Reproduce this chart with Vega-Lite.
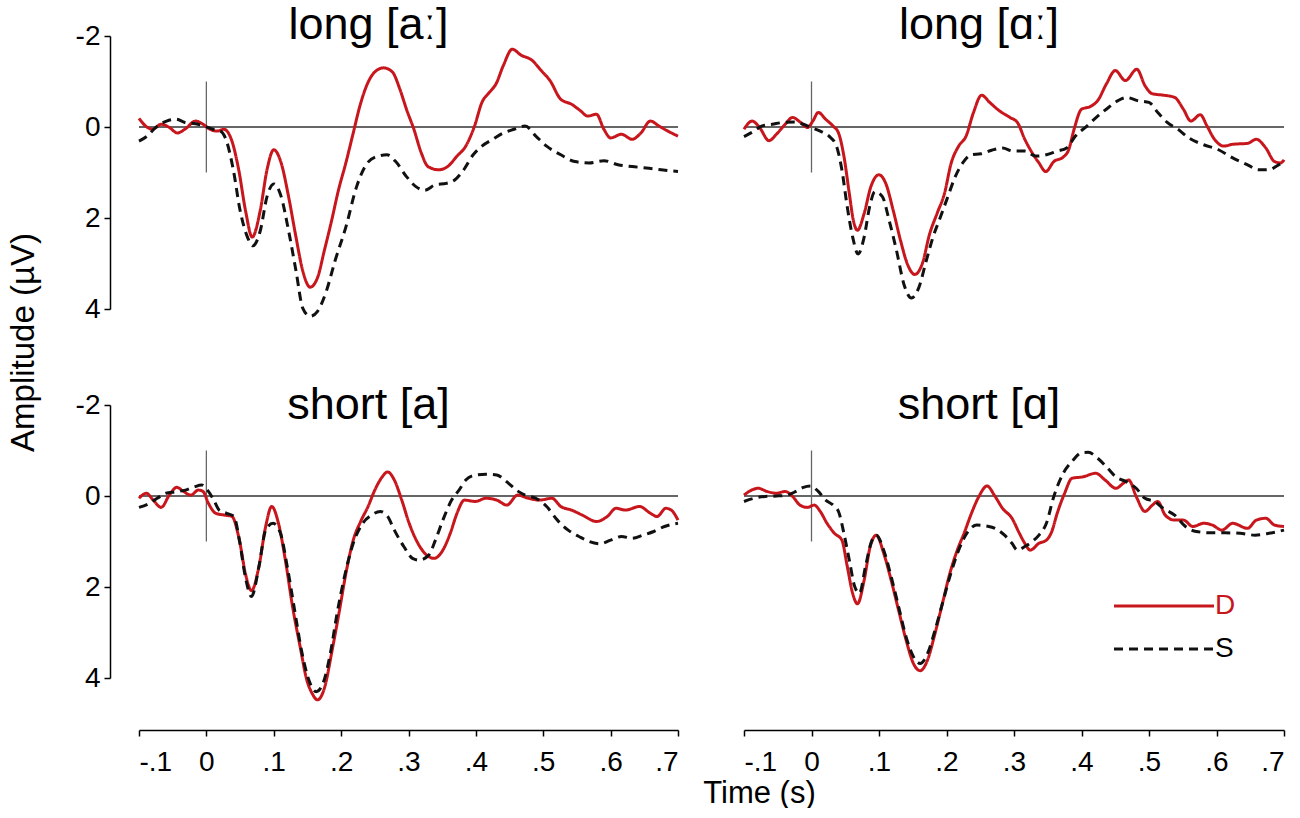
{
  "$schema": "https://vega.github.io/schema/vega-lite/v6.json",
  "description": "ERP waveforms for deviant (D) and standard (S) vowels, long and short, in four panels.",
  "padding": {"left": 7, "top": 3, "right": 8, "bottom": 0},
  "bounds": "flush",
  "columns": 2,
  "spacing": {"row": 96, "column": 66},
  "resolve": {"legend": {"color": "independent", "strokeDash": "independent"}},
  "datasets": {
    "erp": [
      {"panel":"long [aː]","cond":"D","time":-0.100,"amp":-0.19},{"panel":"long [aː]","cond":"D","time":-0.090,"amp":-0.02},{"panel":"long [aː]","cond":"D","time":-0.080,"amp":0.05},{"panel":"long [aː]","cond":"D","time":-0.067,"amp":-0.06},{"panel":"long [aː]","cond":"D","time":-0.056,"amp":0.00},{"panel":"long [aː]","cond":"D","time":-0.043,"amp":0.13},{"panel":"long [aː]","cond":"D","time":-0.032,"amp":0.05},{"panel":"long [aː]","cond":"D","time":-0.016,"amp":-0.13},{"panel":"long [aː]","cond":"D","time":-0.005,"amp":-0.06},{"panel":"long [aː]","cond":"D","time":0.003,"amp":0.03},{"panel":"long [aː]","cond":"D","time":0.016,"amp":0.09},{"panel":"long [aː]","cond":"D","time":0.026,"amp":0.05},{"panel":"long [aː]","cond":"D","time":0.037,"amp":0.27},{"panel":"long [aː]","cond":"D","time":0.048,"amp":0.94},{"panel":"long [aː]","cond":"D","time":0.058,"amp":1.83},{"panel":"long [aː]","cond":"D","time":0.068,"amp":2.42},{"panel":"long [aː]","cond":"D","time":0.080,"amp":1.83},{"panel":"long [aː]","cond":"D","time":0.090,"amp":0.94},{"panel":"long [aː]","cond":"D","time":0.100,"amp":0.50},{"panel":"long [aː]","cond":"D","time":0.111,"amp":0.79},{"panel":"long [aː]","cond":"D","time":0.122,"amp":1.53},{"panel":"long [aː]","cond":"D","time":0.133,"amp":2.42},{"panel":"long [aː]","cond":"D","time":0.143,"amp":3.16},{"panel":"long [aː]","cond":"D","time":0.154,"amp":3.52},{"panel":"long [aː]","cond":"D","time":0.165,"amp":3.31},{"panel":"long [aː]","cond":"D","time":0.175,"amp":2.72},{"panel":"long [aː]","cond":"D","time":0.186,"amp":2.05},{"panel":"long [aː]","cond":"D","time":0.196,"amp":1.39},{"panel":"long [aː]","cond":"D","time":0.207,"amp":0.79},{"panel":"long [aː]","cond":"D","time":0.218,"amp":0.13},{"panel":"long [aː]","cond":"D","time":0.228,"amp":-0.47},{"panel":"long [aː]","cond":"D","time":0.239,"amp":-0.95},{"panel":"long [aː]","cond":"D","time":0.250,"amp":-1.21},{"panel":"long [aː]","cond":"D","time":0.263,"amp":-1.30},{"panel":"long [aː]","cond":"D","time":0.276,"amp":-1.21},{"panel":"long [aː]","cond":"D","time":0.287,"amp":-0.84},{"panel":"long [aː]","cond":"D","time":0.297,"amp":-0.39},{"panel":"long [aː]","cond":"D","time":0.308,"amp":0.05},{"panel":"long [aː]","cond":"D","time":0.319,"amp":0.57},{"panel":"long [aː]","cond":"D","time":0.329,"amp":0.87},{"panel":"long [aː]","cond":"D","time":0.345,"amp":0.94},{"panel":"long [aː]","cond":"D","time":0.358,"amp":0.87},{"panel":"long [aː]","cond":"D","time":0.372,"amp":0.64},{"panel":"long [aː]","cond":"D","time":0.385,"amp":0.42},{"panel":"long [aː]","cond":"D","time":0.398,"amp":-0.02},{"panel":"long [aː]","cond":"D","time":0.409,"amp":-0.54},{"panel":"long [aː]","cond":"D","time":0.420,"amp":-0.76},{"panel":"long [aː]","cond":"D","time":0.430,"amp":-0.95},{"panel":"long [aː]","cond":"D","time":0.441,"amp":-1.36},{"panel":"long [aː]","cond":"D","time":0.454,"amp":-1.71},{"panel":"long [aː]","cond":"D","time":0.467,"amp":-1.58},{"panel":"long [aː]","cond":"D","time":0.483,"amp":-1.47},{"panel":"long [aː]","cond":"D","time":0.497,"amp":-1.24},{"panel":"long [aː]","cond":"D","time":0.510,"amp":-1.02},{"panel":"long [aː]","cond":"D","time":0.526,"amp":-0.61},{"panel":"long [aː]","cond":"D","time":0.542,"amp":-0.50},{"panel":"long [aː]","cond":"D","time":0.555,"amp":-0.36},{"panel":"long [aː]","cond":"D","time":0.566,"amp":-0.24},{"panel":"long [aː]","cond":"D","time":0.579,"amp":-0.28},{"panel":"long [aː]","cond":"D","time":0.590,"amp":0.05},{"panel":"long [aː]","cond":"D","time":0.600,"amp":0.24},{"panel":"long [aː]","cond":"D","time":0.616,"amp":0.16},{"panel":"long [aː]","cond":"D","time":0.632,"amp":0.27},{"panel":"long [aː]","cond":"D","time":0.645,"amp":0.13},{"panel":"long [aː]","cond":"D","time":0.659,"amp":-0.13},{"panel":"long [aː]","cond":"D","time":0.672,"amp":-0.02},{"panel":"long [aː]","cond":"D","time":0.685,"amp":0.09},{"panel":"long [aː]","cond":"D","time":0.700,"amp":0.20},
      {"panel":"long [aː]","cond":"S","time":-0.100,"amp":0.31},{"panel":"long [aː]","cond":"S","time":-0.088,"amp":0.20},{"panel":"long [aː]","cond":"S","time":-0.075,"amp":0.01},{"panel":"long [aː]","cond":"S","time":-0.059,"amp":-0.13},{"panel":"long [aː]","cond":"S","time":-0.045,"amp":-0.17},{"panel":"long [aː]","cond":"S","time":-0.032,"amp":-0.10},{"panel":"long [aː]","cond":"S","time":-0.016,"amp":-0.07},{"panel":"long [aː]","cond":"S","time":-0.003,"amp":-0.02},{"panel":"long [aː]","cond":"S","time":0.010,"amp":0.05},{"panel":"long [aː]","cond":"S","time":0.021,"amp":0.09},{"panel":"long [aː]","cond":"S","time":0.029,"amp":0.27},{"panel":"long [aː]","cond":"S","time":0.040,"amp":0.94},{"panel":"long [aː]","cond":"S","time":0.050,"amp":1.83},{"panel":"long [aː]","cond":"S","time":0.061,"amp":2.42},{"panel":"long [aː]","cond":"S","time":0.069,"amp":2.61},{"panel":"long [aː]","cond":"S","time":0.080,"amp":2.28},{"panel":"long [aː]","cond":"S","time":0.090,"amp":1.53},{"panel":"long [aː]","cond":"S","time":0.100,"amp":1.25},{"panel":"long [aː]","cond":"S","time":0.111,"amp":1.53},{"panel":"long [aː]","cond":"S","time":0.122,"amp":2.28},{"panel":"long [aː]","cond":"S","time":0.133,"amp":3.16},{"panel":"long [aː]","cond":"S","time":0.143,"amp":3.98},{"panel":"long [aː]","cond":"S","time":0.154,"amp":4.16},{"panel":"long [aː]","cond":"S","time":0.165,"amp":4.05},{"panel":"long [aː]","cond":"S","time":0.178,"amp":3.61},{"panel":"long [aː]","cond":"S","time":0.191,"amp":2.94},{"panel":"long [aː]","cond":"S","time":0.207,"amp":2.20},{"panel":"long [aː]","cond":"S","time":0.223,"amp":1.31},{"panel":"long [aː]","cond":"S","time":0.239,"amp":0.79},{"panel":"long [aː]","cond":"S","time":0.255,"amp":0.64},{"panel":"long [aː]","cond":"S","time":0.268,"amp":0.61},{"panel":"long [aː]","cond":"S","time":0.281,"amp":0.76},{"panel":"long [aː]","cond":"S","time":0.297,"amp":1.09},{"panel":"long [aː]","cond":"S","time":0.311,"amp":1.31},{"panel":"long [aː]","cond":"S","time":0.324,"amp":1.39},{"panel":"long [aː]","cond":"S","time":0.340,"amp":1.27},{"panel":"long [aː]","cond":"S","time":0.356,"amp":1.24},{"panel":"long [aː]","cond":"S","time":0.369,"amp":1.16},{"panel":"long [aː]","cond":"S","time":0.382,"amp":0.94},{"panel":"long [aː]","cond":"S","time":0.396,"amp":0.61},{"panel":"long [aː]","cond":"S","time":0.409,"amp":0.42},{"panel":"long [aː]","cond":"S","time":0.425,"amp":0.27},{"panel":"long [aː]","cond":"S","time":0.441,"amp":0.13},{"panel":"long [aː]","cond":"S","time":0.457,"amp":0.05},{"panel":"long [aː]","cond":"S","time":0.473,"amp":-0.02},{"panel":"long [aː]","cond":"S","time":0.489,"amp":0.20},{"panel":"long [aː]","cond":"S","time":0.505,"amp":0.42},{"panel":"long [aː]","cond":"S","time":0.526,"amp":0.61},{"panel":"long [aː]","cond":"S","time":0.547,"amp":0.76},{"panel":"long [aː]","cond":"S","time":0.568,"amp":0.79},{"panel":"long [aː]","cond":"S","time":0.590,"amp":0.74},{"panel":"long [aː]","cond":"S","time":0.611,"amp":0.83},{"panel":"long [aː]","cond":"S","time":0.632,"amp":0.87},{"panel":"long [aː]","cond":"S","time":0.653,"amp":0.90},{"panel":"long [aː]","cond":"S","time":0.675,"amp":0.94},{"panel":"long [aː]","cond":"S","time":0.700,"amp":0.98},
      {"panel":"long [ɑː]","cond":"D","time":-0.100,"amp":0.05},{"panel":"long [ɑː]","cond":"D","time":-0.088,"amp":-0.13},{"panel":"long [ɑː]","cond":"D","time":-0.077,"amp":0.01},{"panel":"long [ɑː]","cond":"D","time":-0.063,"amp":0.30},{"panel":"long [ɑː]","cond":"D","time":-0.052,"amp":0.16},{"panel":"long [ɑː]","cond":"D","time":-0.039,"amp":-0.06},{"panel":"long [ɑː]","cond":"D","time":-0.028,"amp":-0.21},{"panel":"long [ɑː]","cond":"D","time":-0.017,"amp":-0.11},{"panel":"long [ɑː]","cond":"D","time":-0.006,"amp":0.01},{"panel":"long [ɑː]","cond":"D","time":0.002,"amp":-0.13},{"panel":"long [ɑː]","cond":"D","time":0.010,"amp":-0.32},{"panel":"long [ɑː]","cond":"D","time":0.021,"amp":-0.17},{"panel":"long [ɑː]","cond":"D","time":0.032,"amp":-0.02},{"panel":"long [ɑː]","cond":"D","time":0.040,"amp":0.13},{"panel":"long [ɑː]","cond":"D","time":0.048,"amp":0.64},{"panel":"long [ɑː]","cond":"D","time":0.056,"amp":1.46},{"panel":"long [ɑː]","cond":"D","time":0.062,"amp":2.05},{"panel":"long [ɑː]","cond":"D","time":0.068,"amp":2.27},{"panel":"long [ɑː]","cond":"D","time":0.078,"amp":1.90},{"panel":"long [ɑː]","cond":"D","time":0.088,"amp":1.31},{"panel":"long [ɑː]","cond":"D","time":0.100,"amp":1.05},{"panel":"long [ɑː]","cond":"D","time":0.110,"amp":1.24},{"panel":"long [ɑː]","cond":"D","time":0.121,"amp":1.83},{"panel":"long [ɑː]","cond":"D","time":0.132,"amp":2.50},{"panel":"long [ɑː]","cond":"D","time":0.142,"amp":3.01},{"panel":"long [ɑː]","cond":"D","time":0.153,"amp":3.24},{"panel":"long [ɑː]","cond":"D","time":0.164,"amp":3.01},{"panel":"long [ɑː]","cond":"D","time":0.175,"amp":2.35},{"panel":"long [ɑː]","cond":"D","time":0.186,"amp":1.90},{"panel":"long [ɑː]","cond":"D","time":0.197,"amp":1.46},{"panel":"long [ɑː]","cond":"D","time":0.207,"amp":0.79},{"panel":"long [ɑː]","cond":"D","time":0.218,"amp":0.42},{"panel":"long [ɑː]","cond":"D","time":0.229,"amp":0.20},{"panel":"long [ɑː]","cond":"D","time":0.240,"amp":-0.32},{"panel":"long [ɑː]","cond":"D","time":0.252,"amp":-0.70},{"panel":"long [ɑː]","cond":"D","time":0.264,"amp":-0.54},{"panel":"long [ɑː]","cond":"D","time":0.278,"amp":-0.36},{"panel":"long [ɑː]","cond":"D","time":0.294,"amp":-0.21},{"panel":"long [ɑː]","cond":"D","time":0.305,"amp":-0.10},{"panel":"long [ɑː]","cond":"D","time":0.316,"amp":0.27},{"panel":"long [ɑː]","cond":"D","time":0.327,"amp":0.57},{"panel":"long [ɑː]","cond":"D","time":0.337,"amp":0.79},{"panel":"long [ɑː]","cond":"D","time":0.347,"amp":0.98},{"panel":"long [ɑː]","cond":"D","time":0.359,"amp":0.76},{"panel":"long [ɑː]","cond":"D","time":0.373,"amp":0.66},{"panel":"long [ɑː]","cond":"D","time":0.381,"amp":0.50},{"panel":"long [ɑː]","cond":"D","time":0.389,"amp":0.05},{"panel":"long [ɑː]","cond":"D","time":0.400,"amp":-0.39},{"panel":"long [ɑː]","cond":"D","time":0.413,"amp":-0.45},{"panel":"long [ɑː]","cond":"D","time":0.424,"amp":-0.58},{"panel":"long [ɑː]","cond":"D","time":0.437,"amp":-0.95},{"panel":"long [ɑː]","cond":"D","time":0.450,"amp":-1.24},{"panel":"long [ɑː]","cond":"D","time":0.465,"amp":-1.02},{"panel":"long [ɑː]","cond":"D","time":0.482,"amp":-1.27},{"panel":"long [ɑː]","cond":"D","time":0.494,"amp":-0.91},{"panel":"long [ɑː]","cond":"D","time":0.505,"amp":-0.73},{"panel":"long [ɑː]","cond":"D","time":0.521,"amp":-0.70},{"panel":"long [ɑː]","cond":"D","time":0.538,"amp":-0.65},{"panel":"long [ɑː]","cond":"D","time":0.551,"amp":-0.39},{"panel":"long [ɑː]","cond":"D","time":0.562,"amp":-0.13},{"panel":"long [ɑː]","cond":"D","time":0.576,"amp":-0.27},{"panel":"long [ɑː]","cond":"D","time":0.586,"amp":-0.02},{"panel":"long [ɑː]","cond":"D","time":0.597,"amp":0.27},{"panel":"long [ɑː]","cond":"D","time":0.611,"amp":0.42},{"panel":"long [ɑː]","cond":"D","time":0.624,"amp":0.38},{"panel":"long [ɑː]","cond":"D","time":0.646,"amp":0.36},{"panel":"long [ɑː]","cond":"D","time":0.659,"amp":0.27},{"panel":"long [ɑː]","cond":"D","time":0.673,"amp":0.46},{"panel":"long [ɑː]","cond":"D","time":0.686,"amp":0.76},{"panel":"long [ɑː]","cond":"D","time":0.695,"amp":0.79},{"panel":"long [ɑː]","cond":"D","time":0.700,"amp":0.72},
      {"panel":"long [ɑː]","cond":"S","time":-0.100,"amp":0.21},{"panel":"long [ɑː]","cond":"S","time":-0.085,"amp":0.09},{"panel":"long [ɑː]","cond":"S","time":-0.074,"amp":-0.02},{"panel":"long [ɑː]","cond":"S","time":-0.058,"amp":-0.06},{"panel":"long [ɑː]","cond":"S","time":-0.042,"amp":-0.10},{"panel":"long [ɑː]","cond":"S","time":-0.025,"amp":-0.11},{"panel":"long [ɑː]","cond":"S","time":-0.012,"amp":-0.06},{"panel":"long [ɑː]","cond":"S","time":-0.001,"amp":0.01},{"panel":"long [ɑː]","cond":"S","time":0.013,"amp":0.09},{"panel":"long [ɑː]","cond":"S","time":0.026,"amp":0.20},{"panel":"long [ɑː]","cond":"S","time":0.037,"amp":0.42},{"panel":"long [ɑː]","cond":"S","time":0.045,"amp":0.94},{"panel":"long [ɑː]","cond":"S","time":0.053,"amp":1.76},{"panel":"long [ɑː]","cond":"S","time":0.061,"amp":2.42},{"panel":"long [ɑː]","cond":"S","time":0.069,"amp":2.79},{"panel":"long [ɑː]","cond":"S","time":0.078,"amp":2.42},{"panel":"long [ɑː]","cond":"S","time":0.086,"amp":1.76},{"panel":"long [ɑː]","cond":"S","time":0.094,"amp":1.42},{"panel":"long [ɑː]","cond":"S","time":0.105,"amp":1.53},{"panel":"long [ɑː]","cond":"S","time":0.115,"amp":2.05},{"panel":"long [ɑː]","cond":"S","time":0.126,"amp":2.72},{"panel":"long [ɑː]","cond":"S","time":0.137,"amp":3.46},{"panel":"long [ɑː]","cond":"S","time":0.148,"amp":3.76},{"panel":"long [ɑː]","cond":"S","time":0.159,"amp":3.53},{"panel":"long [ɑː]","cond":"S","time":0.170,"amp":2.94},{"panel":"long [ɑː]","cond":"S","time":0.180,"amp":2.42},{"panel":"long [ɑː]","cond":"S","time":0.191,"amp":1.98},{"panel":"long [ɑː]","cond":"S","time":0.202,"amp":1.53},{"panel":"long [ɑː]","cond":"S","time":0.213,"amp":1.09},{"panel":"long [ɑː]","cond":"S","time":0.224,"amp":0.79},{"panel":"long [ɑː]","cond":"S","time":0.237,"amp":0.61},{"panel":"long [ɑː]","cond":"S","time":0.251,"amp":0.59},{"panel":"long [ɑː]","cond":"S","time":0.267,"amp":0.51},{"panel":"long [ɑː]","cond":"S","time":0.283,"amp":0.46},{"panel":"long [ɑː]","cond":"S","time":0.299,"amp":0.53},{"panel":"long [ɑː]","cond":"S","time":0.316,"amp":0.53},{"panel":"long [ɑː]","cond":"S","time":0.332,"amp":0.64},{"panel":"long [ɑː]","cond":"S","time":0.348,"amp":0.61},{"panel":"long [ɑː]","cond":"S","time":0.364,"amp":0.53},{"panel":"long [ɑː]","cond":"S","time":0.378,"amp":0.46},{"panel":"long [ɑː]","cond":"S","time":0.391,"amp":0.20},{"panel":"long [ɑː]","cond":"S","time":0.408,"amp":-0.02},{"panel":"long [ɑː]","cond":"S","time":0.424,"amp":-0.24},{"panel":"long [ɑː]","cond":"S","time":0.440,"amp":-0.43},{"panel":"long [ɑː]","cond":"S","time":0.454,"amp":-0.58},{"panel":"long [ɑː]","cond":"S","time":0.467,"amp":-0.65},{"panel":"long [ɑː]","cond":"S","time":0.483,"amp":-0.58},{"panel":"long [ɑː]","cond":"S","time":0.500,"amp":-0.54},{"panel":"long [ɑː]","cond":"S","time":0.513,"amp":-0.32},{"panel":"long [ɑː]","cond":"S","time":0.527,"amp":-0.10},{"panel":"long [ɑː]","cond":"S","time":0.543,"amp":0.05},{"panel":"long [ɑː]","cond":"S","time":0.559,"amp":0.24},{"panel":"long [ɑː]","cond":"S","time":0.581,"amp":0.39},{"panel":"long [ɑː]","cond":"S","time":0.603,"amp":0.50},{"panel":"long [ɑː]","cond":"S","time":0.624,"amp":0.68},{"panel":"long [ɑː]","cond":"S","time":0.646,"amp":0.83},{"panel":"long [ɑː]","cond":"S","time":0.662,"amp":0.94},{"panel":"long [ɑː]","cond":"S","time":0.678,"amp":0.94},{"panel":"long [ɑː]","cond":"S","time":0.692,"amp":0.83},{"panel":"long [ɑː]","cond":"S","time":0.700,"amp":0.78},
      {"panel":"short [a]","cond":"D","time":-0.100,"amp":0.05},{"panel":"short [a]","cond":"D","time":-0.089,"amp":-0.06},{"panel":"short [a]","cond":"D","time":-0.079,"amp":0.09},{"panel":"short [a]","cond":"D","time":-0.067,"amp":0.25},{"panel":"short [a]","cond":"D","time":-0.055,"amp":-0.02},{"panel":"short [a]","cond":"D","time":-0.044,"amp":-0.19},{"panel":"short [a]","cond":"D","time":-0.034,"amp":-0.10},{"panel":"short [a]","cond":"D","time":-0.023,"amp":-0.02},{"panel":"short [a]","cond":"D","time":-0.012,"amp":-0.13},{"panel":"short [a]","cond":"D","time":-0.005,"amp":-0.10},{"panel":"short [a]","cond":"D","time":0.003,"amp":0.16},{"panel":"short [a]","cond":"D","time":0.014,"amp":0.38},{"panel":"short [a]","cond":"D","time":0.027,"amp":0.42},{"panel":"short [a]","cond":"D","time":0.038,"amp":0.45},{"panel":"short [a]","cond":"D","time":0.049,"amp":0.97},{"panel":"short [a]","cond":"D","time":0.058,"amp":1.71},{"panel":"short [a]","cond":"D","time":0.067,"amp":2.08},{"panel":"short [a]","cond":"D","time":0.078,"amp":1.55},{"panel":"short [a]","cond":"D","time":0.088,"amp":0.67},{"panel":"short [a]","cond":"D","time":0.097,"amp":0.23},{"panel":"short [a]","cond":"D","time":0.107,"amp":0.60},{"panel":"short [a]","cond":"D","time":0.118,"amp":1.48},{"panel":"short [a]","cond":"D","time":0.128,"amp":2.44},{"panel":"short [a]","cond":"D","time":0.139,"amp":3.30},{"panel":"short [a]","cond":"D","time":0.149,"amp":4.04},{"panel":"short [a]","cond":"D","time":0.157,"amp":4.34},{"panel":"short [a]","cond":"D","time":0.165,"amp":4.48},{"panel":"short [a]","cond":"D","time":0.176,"amp":4.18},{"panel":"short [a]","cond":"D","time":0.186,"amp":3.44},{"panel":"short [a]","cond":"D","time":0.197,"amp":2.56},{"panel":"short [a]","cond":"D","time":0.208,"amp":1.63},{"panel":"short [a]","cond":"D","time":0.218,"amp":0.97},{"panel":"short [a]","cond":"D","time":0.229,"amp":0.56},{"panel":"short [a]","cond":"D","time":0.240,"amp":0.23},{"panel":"short [a]","cond":"D","time":0.250,"amp":-0.13},{"panel":"short [a]","cond":"D","time":0.261,"amp":-0.42},{"panel":"short [a]","cond":"D","time":0.269,"amp":-0.53},{"panel":"short [a]","cond":"D","time":0.279,"amp":-0.35},{"panel":"short [a]","cond":"D","time":0.290,"amp":0.09},{"panel":"short [a]","cond":"D","time":0.301,"amp":0.60},{"panel":"short [a]","cond":"D","time":0.314,"amp":1.04},{"panel":"short [a]","cond":"D","time":0.327,"amp":1.30},{"panel":"short [a]","cond":"D","time":0.338,"amp":1.37},{"panel":"short [a]","cond":"D","time":0.351,"amp":1.19},{"panel":"short [a]","cond":"D","time":0.362,"amp":0.82},{"panel":"short [a]","cond":"D","time":0.372,"amp":0.38},{"panel":"short [a]","cond":"D","time":0.383,"amp":0.09},{"panel":"short [a]","cond":"D","time":0.399,"amp":0.12},{"panel":"short [a]","cond":"D","time":0.415,"amp":0.05},{"panel":"short [a]","cond":"D","time":0.431,"amp":0.09},{"panel":"short [a]","cond":"D","time":0.446,"amp":0.20},{"panel":"short [a]","cond":"D","time":0.462,"amp":-0.02},{"panel":"short [a]","cond":"D","time":0.478,"amp":0.05},{"panel":"short [a]","cond":"D","time":0.494,"amp":0.09},{"panel":"short [a]","cond":"D","time":0.513,"amp":0.05},{"panel":"short [a]","cond":"D","time":0.526,"amp":0.23},{"panel":"short [a]","cond":"D","time":0.542,"amp":0.31},{"panel":"short [a]","cond":"D","time":0.558,"amp":0.42},{"panel":"short [a]","cond":"D","time":0.579,"amp":0.56},{"panel":"short [a]","cond":"D","time":0.595,"amp":0.45},{"panel":"short [a]","cond":"D","time":0.608,"amp":0.27},{"panel":"short [a]","cond":"D","time":0.622,"amp":0.31},{"panel":"short [a]","cond":"D","time":0.643,"amp":0.23},{"panel":"short [a]","cond":"D","time":0.659,"amp":0.38},{"panel":"short [a]","cond":"D","time":0.669,"amp":0.45},{"panel":"short [a]","cond":"D","time":0.682,"amp":0.27},{"panel":"short [a]","cond":"D","time":0.690,"amp":0.31},{"panel":"short [a]","cond":"D","time":0.700,"amp":0.53},
      {"panel":"short [a]","cond":"S","time":-0.100,"amp":0.25},{"panel":"short [a]","cond":"S","time":-0.087,"amp":0.18},{"panel":"short [a]","cond":"S","time":-0.073,"amp":0.05},{"panel":"short [a]","cond":"S","time":-0.060,"amp":-0.06},{"panel":"short [a]","cond":"S","time":-0.047,"amp":-0.09},{"panel":"short [a]","cond":"S","time":-0.031,"amp":-0.13},{"panel":"short [a]","cond":"S","time":-0.018,"amp":-0.20},{"panel":"short [a]","cond":"S","time":-0.007,"amp":-0.24},{"panel":"short [a]","cond":"S","time":0.003,"amp":-0.10},{"panel":"short [a]","cond":"S","time":0.011,"amp":0.09},{"panel":"short [a]","cond":"S","time":0.019,"amp":0.31},{"panel":"short [a]","cond":"S","time":0.030,"amp":0.38},{"panel":"short [a]","cond":"S","time":0.041,"amp":0.45},{"panel":"short [a]","cond":"S","time":0.049,"amp":0.97},{"panel":"short [a]","cond":"S","time":0.058,"amp":1.79},{"panel":"short [a]","cond":"S","time":0.067,"amp":2.21},{"panel":"short [a]","cond":"S","time":0.078,"amp":1.55},{"panel":"short [a]","cond":"S","time":0.088,"amp":0.75},{"panel":"short [a]","cond":"S","time":0.099,"amp":0.60},{"panel":"short [a]","cond":"S","time":0.110,"amp":0.82},{"panel":"short [a]","cond":"S","time":0.120,"amp":1.55},{"panel":"short [a]","cond":"S","time":0.131,"amp":2.51},{"panel":"short [a]","cond":"S","time":0.141,"amp":3.38},{"panel":"short [a]","cond":"S","time":0.152,"amp":4.04},{"panel":"short [a]","cond":"S","time":0.163,"amp":4.30},{"panel":"short [a]","cond":"S","time":0.173,"amp":4.12},{"panel":"short [a]","cond":"S","time":0.184,"amp":3.46},{"panel":"short [a]","cond":"S","time":0.194,"amp":2.58},{"panel":"short [a]","cond":"S","time":0.205,"amp":1.77},{"panel":"short [a]","cond":"S","time":0.218,"amp":1.04},{"panel":"short [a]","cond":"S","time":0.232,"amp":0.60},{"panel":"short [a]","cond":"S","time":0.245,"amp":0.42},{"panel":"short [a]","cond":"S","time":0.258,"amp":0.34},{"panel":"short [a]","cond":"S","time":0.269,"amp":0.45},{"panel":"short [a]","cond":"S","time":0.279,"amp":0.75},{"panel":"short [a]","cond":"S","time":0.293,"amp":1.11},{"panel":"short [a]","cond":"S","time":0.306,"amp":1.37},{"panel":"short [a]","cond":"S","time":0.316,"amp":1.41},{"panel":"short [a]","cond":"S","time":0.330,"amp":1.30},{"panel":"short [a]","cond":"S","time":0.340,"amp":0.97},{"panel":"short [a]","cond":"S","time":0.351,"amp":0.53},{"panel":"short [a]","cond":"S","time":0.364,"amp":0.09},{"panel":"short [a]","cond":"S","time":0.375,"amp":-0.13},{"panel":"short [a]","cond":"S","time":0.385,"amp":-0.35},{"panel":"short [a]","cond":"S","time":0.399,"amp":-0.46},{"panel":"short [a]","cond":"S","time":0.415,"amp":-0.48},{"panel":"short [a]","cond":"S","time":0.431,"amp":-0.46},{"panel":"short [a]","cond":"S","time":0.446,"amp":-0.31},{"panel":"short [a]","cond":"S","time":0.460,"amp":-0.13},{"panel":"short [a]","cond":"S","time":0.473,"amp":-0.02},{"panel":"short [a]","cond":"S","time":0.489,"amp":0.05},{"panel":"short [a]","cond":"S","time":0.505,"amp":0.23},{"panel":"short [a]","cond":"S","time":0.521,"amp":0.53},{"panel":"short [a]","cond":"S","time":0.537,"amp":0.75},{"panel":"short [a]","cond":"S","time":0.553,"amp":0.89},{"panel":"short [a]","cond":"S","time":0.568,"amp":1.00},{"panel":"short [a]","cond":"S","time":0.584,"amp":1.05},{"panel":"short [a]","cond":"S","time":0.600,"amp":0.97},{"panel":"short [a]","cond":"S","time":0.616,"amp":0.89},{"panel":"short [a]","cond":"S","time":0.632,"amp":0.93},{"panel":"short [a]","cond":"S","time":0.648,"amp":0.86},{"panel":"short [a]","cond":"S","time":0.664,"amp":0.78},{"panel":"short [a]","cond":"S","time":0.680,"amp":0.67},{"panel":"short [a]","cond":"S","time":0.700,"amp":0.60},
      {"panel":"short [ɑ]","cond":"D","time":-0.100,"amp":-0.02},{"panel":"short [ɑ]","cond":"D","time":-0.090,"amp":-0.12},{"panel":"short [ɑ]","cond":"D","time":-0.079,"amp":-0.17},{"panel":"short [ɑ]","cond":"D","time":-0.066,"amp":-0.10},{"panel":"short [ɑ]","cond":"D","time":-0.052,"amp":-0.06},{"panel":"short [ɑ]","cond":"D","time":-0.039,"amp":-0.10},{"panel":"short [ɑ]","cond":"D","time":-0.028,"amp":0.01},{"panel":"short [ɑ]","cond":"D","time":-0.017,"amp":0.20},{"panel":"short [ɑ]","cond":"D","time":-0.006,"amp":0.25},{"panel":"short [ɑ]","cond":"D","time":0.004,"amp":0.20},{"panel":"short [ɑ]","cond":"D","time":0.013,"amp":0.34},{"panel":"short [ɑ]","cond":"D","time":0.023,"amp":0.60},{"panel":"short [ɑ]","cond":"D","time":0.034,"amp":0.82},{"panel":"short [ɑ]","cond":"D","time":0.045,"amp":0.97},{"panel":"short [ɑ]","cond":"D","time":0.053,"amp":1.55},{"panel":"short [ɑ]","cond":"D","time":0.061,"amp":2.14},{"panel":"short [ɑ]","cond":"D","time":0.068,"amp":2.37},{"panel":"short [ɑ]","cond":"D","time":0.078,"amp":1.85},{"panel":"short [ɑ]","cond":"D","time":0.087,"amp":1.11},{"panel":"short [ɑ]","cond":"D","time":0.096,"amp":0.86},{"panel":"short [ɑ]","cond":"D","time":0.107,"amp":1.26},{"panel":"short [ɑ]","cond":"D","time":0.118,"amp":1.85},{"panel":"short [ɑ]","cond":"D","time":0.129,"amp":2.51},{"panel":"short [ɑ]","cond":"D","time":0.140,"amp":3.16},{"panel":"short [ɑ]","cond":"D","time":0.151,"amp":3.68},{"panel":"short [ɑ]","cond":"D","time":0.161,"amp":3.84},{"panel":"short [ɑ]","cond":"D","time":0.172,"amp":3.60},{"panel":"short [ɑ]","cond":"D","time":0.183,"amp":3.02},{"panel":"short [ɑ]","cond":"D","time":0.194,"amp":2.36},{"panel":"short [ɑ]","cond":"D","time":0.205,"amp":1.70},{"panel":"short [ɑ]","cond":"D","time":0.216,"amp":1.19},{"panel":"short [ɑ]","cond":"D","time":0.226,"amp":0.82},{"panel":"short [ɑ]","cond":"D","time":0.237,"amp":0.38},{"panel":"short [ɑ]","cond":"D","time":0.248,"amp":0.01},{"panel":"short [ɑ]","cond":"D","time":0.260,"amp":-0.22},{"panel":"short [ɑ]","cond":"D","time":0.272,"amp":0.01},{"panel":"short [ɑ]","cond":"D","time":0.283,"amp":0.27},{"panel":"short [ɑ]","cond":"D","time":0.297,"amp":0.49},{"panel":"short [ɑ]","cond":"D","time":0.308,"amp":0.82},{"panel":"short [ɑ]","cond":"D","time":0.316,"amp":1.04},{"panel":"short [ɑ]","cond":"D","time":0.324,"amp":1.19},{"panel":"short [ɑ]","cond":"D","time":0.337,"amp":1.04},{"panel":"short [ɑ]","cond":"D","time":0.348,"amp":0.97},{"panel":"short [ɑ]","cond":"D","time":0.356,"amp":0.78},{"panel":"short [ɑ]","cond":"D","time":0.364,"amp":0.38},{"panel":"short [ɑ]","cond":"D","time":0.375,"amp":-0.06},{"panel":"short [ɑ]","cond":"D","time":0.386,"amp":-0.39},{"panel":"short [ɑ]","cond":"D","time":0.402,"amp":-0.42},{"panel":"short [ɑ]","cond":"D","time":0.421,"amp":-0.50},{"panel":"short [ɑ]","cond":"D","time":0.435,"amp":-0.35},{"panel":"short [ɑ]","cond":"D","time":0.451,"amp":-0.17},{"panel":"short [ɑ]","cond":"D","time":0.462,"amp":-0.28},{"panel":"short [ɑ]","cond":"D","time":0.470,"amp":-0.35},{"panel":"short [ɑ]","cond":"D","time":0.481,"amp":0.01},{"panel":"short [ɑ]","cond":"D","time":0.494,"amp":0.34},{"panel":"short [ɑ]","cond":"D","time":0.505,"amp":0.20},{"panel":"short [ɑ]","cond":"D","time":0.513,"amp":0.12},{"panel":"short [ɑ]","cond":"D","time":0.524,"amp":0.42},{"panel":"short [ɑ]","cond":"D","time":0.538,"amp":0.53},{"panel":"short [ɑ]","cond":"D","time":0.551,"amp":0.53},{"panel":"short [ɑ]","cond":"D","time":0.565,"amp":0.67},{"panel":"short [ɑ]","cond":"D","time":0.581,"amp":0.60},{"panel":"short [ɑ]","cond":"D","time":0.594,"amp":0.64},{"panel":"short [ɑ]","cond":"D","time":0.608,"amp":0.75},{"panel":"short [ɑ]","cond":"D","time":0.624,"amp":0.60},{"panel":"short [ɑ]","cond":"D","time":0.646,"amp":0.71},{"panel":"short [ɑ]","cond":"D","time":0.659,"amp":0.53},{"panel":"short [ɑ]","cond":"D","time":0.673,"amp":0.49},{"panel":"short [ɑ]","cond":"D","time":0.686,"amp":0.64},{"panel":"short [ɑ]","cond":"D","time":0.700,"amp":0.67},
      {"panel":"short [ɑ]","cond":"S","time":-0.100,"amp":0.12},{"panel":"short [ɑ]","cond":"S","time":-0.085,"amp":0.05},{"panel":"short [ɑ]","cond":"S","time":-0.069,"amp":0.01},{"panel":"short [ɑ]","cond":"S","time":-0.052,"amp":0.00},{"panel":"short [ɑ]","cond":"S","time":-0.036,"amp":-0.02},{"panel":"short [ɑ]","cond":"S","time":-0.023,"amp":-0.10},{"panel":"short [ɑ]","cond":"S","time":-0.012,"amp":-0.19},{"panel":"short [ɑ]","cond":"S","time":-0.001,"amp":-0.22},{"panel":"short [ɑ]","cond":"S","time":0.010,"amp":-0.10},{"panel":"short [ɑ]","cond":"S","time":0.021,"amp":0.09},{"panel":"short [ɑ]","cond":"S","time":0.032,"amp":0.20},{"panel":"short [ɑ]","cond":"S","time":0.040,"amp":0.34},{"panel":"short [ɑ]","cond":"S","time":0.048,"amp":0.82},{"panel":"short [ɑ]","cond":"S","time":0.056,"amp":1.41},{"panel":"short [ɑ]","cond":"S","time":0.064,"amp":1.99},{"panel":"short [ɑ]","cond":"S","time":0.071,"amp":2.14},{"panel":"short [ɑ]","cond":"S","time":0.080,"amp":1.55},{"panel":"short [ɑ]","cond":"S","time":0.088,"amp":1.04},{"panel":"short [ɑ]","cond":"S","time":0.096,"amp":0.86},{"panel":"short [ɑ]","cond":"S","time":0.107,"amp":1.19},{"panel":"short [ɑ]","cond":"S","time":0.118,"amp":1.77},{"panel":"short [ɑ]","cond":"S","time":0.129,"amp":2.43},{"panel":"short [ɑ]","cond":"S","time":0.140,"amp":3.09},{"panel":"short [ɑ]","cond":"S","time":0.151,"amp":3.53},{"panel":"short [ɑ]","cond":"S","time":0.161,"amp":3.68},{"panel":"short [ɑ]","cond":"S","time":0.172,"amp":3.46},{"panel":"short [ɑ]","cond":"S","time":0.183,"amp":2.95},{"panel":"short [ɑ]","cond":"S","time":0.194,"amp":2.36},{"panel":"short [ɑ]","cond":"S","time":0.205,"amp":1.77},{"panel":"short [ɑ]","cond":"S","time":0.218,"amp":1.19},{"panel":"short [ɑ]","cond":"S","time":0.232,"amp":0.78},{"panel":"short [ɑ]","cond":"S","time":0.245,"amp":0.64},{"panel":"short [ɑ]","cond":"S","time":0.259,"amp":0.66},{"panel":"short [ɑ]","cond":"S","time":0.272,"amp":0.71},{"panel":"short [ɑ]","cond":"S","time":0.286,"amp":0.86},{"panel":"short [ɑ]","cond":"S","time":0.297,"amp":1.04},{"panel":"short [ɑ]","cond":"S","time":0.305,"amp":1.19},{"panel":"short [ɑ]","cond":"S","time":0.316,"amp":1.11},{"panel":"short [ɑ]","cond":"S","time":0.327,"amp":1.00},{"panel":"short [ɑ]","cond":"S","time":0.337,"amp":0.86},{"panel":"short [ɑ]","cond":"S","time":0.348,"amp":0.60},{"panel":"short [ɑ]","cond":"S","time":0.359,"amp":0.01},{"panel":"short [ɑ]","cond":"S","time":0.373,"amp":-0.50},{"panel":"short [ɑ]","cond":"S","time":0.386,"amp":-0.76},{"panel":"short [ɑ]","cond":"S","time":0.400,"amp":-0.95},{"panel":"short [ɑ]","cond":"S","time":0.410,"amp":-0.96},{"panel":"short [ɑ]","cond":"S","time":0.424,"amp":-0.83},{"panel":"short [ɑ]","cond":"S","time":0.437,"amp":-0.64},{"panel":"short [ɑ]","cond":"S","time":0.451,"amp":-0.42},{"panel":"short [ɑ]","cond":"S","time":0.467,"amp":-0.31},{"panel":"short [ɑ]","cond":"S","time":0.481,"amp":-0.17},{"panel":"short [ɑ]","cond":"S","time":0.494,"amp":0.05},{"panel":"short [ɑ]","cond":"S","time":0.508,"amp":0.12},{"panel":"short [ɑ]","cond":"S","time":0.521,"amp":0.27},{"panel":"short [ɑ]","cond":"S","time":0.538,"amp":0.42},{"panel":"short [ɑ]","cond":"S","time":0.554,"amp":0.67},{"panel":"short [ɑ]","cond":"S","time":0.570,"amp":0.78},{"panel":"short [ɑ]","cond":"S","time":0.592,"amp":0.81},{"panel":"short [ɑ]","cond":"S","time":0.613,"amp":0.81},{"panel":"short [ɑ]","cond":"S","time":0.635,"amp":0.82},{"panel":"short [ɑ]","cond":"S","time":0.657,"amp":0.86},{"panel":"short [ɑ]","cond":"S","time":0.678,"amp":0.82},{"panel":"short [ɑ]","cond":"S","time":0.700,"amp":0.75}
    ]
  },
  "concat": [
    {
      "width": 539,
      "height": 273,
      "title": {"text": "long [aː]", "dx": -40, "offset": -26},
      "layer": [
        {"data": {"values": [{}]}, "mark": {"type": "rule", "color": "#333", "strokeWidth": 1.3}, "encoding": {"y": {"datum": 0, "type": "quantitative"}}},
        {"data": {"values": [{}]}, "mark": {"type": "rule", "color": "#666", "strokeWidth": 1.3}, "encoding": {"x": {"datum": 0, "type": "quantitative", "axis": null}, "y": {"datum": -1, "type": "quantitative"}, "y2": {"datum": 1}}},
        {
          "data": {"name": "erp"},
          "transform": [{"filter": {"field": "panel", "equal": "long [aː]"}}],
          "mark": {"type": "line", "strokeWidth": 3, "interpolate": "monotone"},
          "encoding": {
            "x": {"field": "time", "type": "quantitative", "scale": {"domain": [-0.1, 0.7], "nice": false, "zero": false}, "axis": null},
            "y": {"field": "amp", "type": "quantitative", "scale": {"domain": [-2, 4], "reverse": true, "nice": false, "zero": false},
              "axis": {"values": [-2, 0, 2, 4], "offset": 29, "labelExpr": "'' + datum.value", "title": "Amplitude (µV)", "titleFontSize": 33, "titleFontWeight": "normal", "titleAngle": 270, "titleBaseline": "middle", "titleAlign": "center", "titleX": -87, "titleY": 306}},
            "color": {"field": "cond", "type": "nominal", "scale": {"domain": ["D", "S"], "range": ["#c8161d", "#111111"]}, "legend": null},
            "strokeDash": {"field": "cond", "type": "nominal", "scale": {"domain": ["D", "S"], "range": [[1, 0], [9, 6]]}, "legend": null}
          }
        }
      ]
    },
    {
      "width": 540,
      "height": 273,
      "title": {"text": "long [ɑː]", "dx": -35, "offset": -12},
      "layer": [
        {"data": {"values": [{}]}, "mark": {"type": "rule", "color": "#333", "strokeWidth": 1.3}, "encoding": {"y": {"datum": 0, "type": "quantitative", "axis": null}}},
        {"data": {"values": [{}]}, "mark": {"type": "rule", "color": "#666", "strokeWidth": 1.3}, "encoding": {"x": {"datum": 0, "type": "quantitative", "axis": null}, "y": {"datum": -1, "type": "quantitative", "axis": null}, "y2": {"datum": 1}}},
        {
          "data": {"name": "erp"},
          "transform": [{"filter": {"field": "panel", "equal": "long [ɑː]"}}],
          "mark": {"type": "line", "strokeWidth": 3, "interpolate": "monotone"},
          "encoding": {
            "x": {"field": "time", "type": "quantitative", "scale": {"domain": [-0.1, 0.7], "nice": false, "zero": false}, "axis": null},
            "y": {"field": "amp", "type": "quantitative", "scale": {"domain": [-2, 4], "reverse": true, "nice": false, "zero": false}, "axis": null},
            "color": {"field": "cond", "type": "nominal", "scale": {"domain": ["D", "S"], "range": ["#c8161d", "#111111"]}, "legend": null},
            "strokeDash": {"field": "cond", "type": "nominal", "scale": {"domain": ["D", "S"], "range": [[1, 0], [9, 6]]}, "legend": null}
          }
        }
      ]
    },
    {
      "width": 539,
      "height": 273,
      "title": {"text": "short [a]", "dx": -40, "offset": -37},
      "layer": [
        {"data": {"values": [{}]}, "mark": {"type": "rule", "color": "#333", "strokeWidth": 1.3}, "encoding": {"y": {"datum": 0, "type": "quantitative"}}},
        {"data": {"values": [{}]}, "mark": {"type": "rule", "color": "#666", "strokeWidth": 1.3}, "encoding": {"x": {"datum": 0, "type": "quantitative"}, "y": {"datum": -1, "type": "quantitative"}, "y2": {"datum": 1}}},
        {
          "data": {"name": "erp"},
          "transform": [{"filter": {"field": "panel", "equal": "short [a]"}}],
          "mark": {"type": "line", "strokeWidth": 3, "interpolate": "monotone"},
          "encoding": {
            "x": {"field": "time", "type": "quantitative", "scale": {"domain": [-0.1, 0.7], "nice": false, "zero": false},
              "axis": {"values": [-0.1, 0, 0.1, 0.2, 0.3, 0.4, 0.5, 0.6, 0.7], "offset": 52, "title": null, "labelPadding": 12, "labelExpr": "datum.value < 0 ? '-.1' : datum.value == 0 ? '0' : '.' + round(datum.value * 10)"}},
            "y": {"field": "amp", "type": "quantitative", "scale": {"domain": [-2, 4], "reverse": true, "nice": false, "zero": false},
              "axis": {"values": [-2, 0, 2, 4], "offset": 29, "labelExpr": "'' + datum.value", "title": null}},
            "color": {"field": "cond", "type": "nominal", "scale": {"domain": ["D", "S"], "range": ["#c8161d", "#111111"]}, "legend": null},
            "strokeDash": {"field": "cond", "type": "nominal", "scale": {"domain": ["D", "S"], "range": [[1, 0], [9, 6]]}, "legend": null}
          }
        }
      ]
    },
    {
      "width": 540,
      "height": 273,
      "title": {"text": "short [ɑ]", "dx": -35, "offset": -23},
      "layer": [
        {"data": {"values": [{}]}, "mark": {"type": "rule", "color": "#333", "strokeWidth": 1.3}, "encoding": {"y": {"datum": 0, "type": "quantitative", "axis": null}}},
        {"data": {"values": [{}]}, "mark": {"type": "rule", "color": "#666", "strokeWidth": 1.3}, "encoding": {"x": {"datum": 0, "type": "quantitative"}, "y": {"datum": -1, "type": "quantitative", "axis": null}, "y2": {"datum": 1}}},
        {
          "data": {"name": "erp"},
          "transform": [{"filter": {"field": "panel", "equal": "short [ɑ]"}}],
          "mark": {"type": "line", "strokeWidth": 3, "interpolate": "monotone"},
          "encoding": {
            "x": {"field": "time", "type": "quantitative", "scale": {"domain": [-0.1, 0.7], "nice": false, "zero": false},
              "axis": {"values": [-0.1, 0, 0.1, 0.2, 0.3, 0.4, 0.5, 0.6, 0.7], "offset": 52, "labelPadding": 12, "labelExpr": "datum.value < 0 ? '-.1' : datum.value == 0 ? '0' : '.' + round(datum.value * 10)",
                "title": "Time (s)", "titleFontSize": 31, "titleFontWeight": "normal", "titleBaseline": "middle", "titleAlign": "center", "titleX": 15, "titleY": 63}},
            "y": {"field": "amp", "type": "quantitative", "scale": {"domain": [-2, 4], "reverse": true, "nice": false, "zero": false}, "axis": null},
            "color": {"field": "cond", "type": "nominal", "scale": {"domain": ["D", "S"], "range": ["#c8161d", "#111111"]},
              "legend": {"orient": "none", "legendX": 406, "legendY": 187, "title": null, "symbolType": "M-5,0H5", "symbolSize": 400, "symbolStrokeWidth": 3, "labelFontSize": 28, "labelOffset": 37, "rowPadding": 15,
                "encode": {"labels": {"update": {"fill": {"signal": "datum.value === 'D' ? '#c8161d' : '#000000'"}}}}}},
            "strokeDash": {"field": "cond", "type": "nominal", "scale": {"domain": ["D", "S"], "range": [[1, 0], [9, 6]]},
              "legend": {"orient": "none", "legendX": 406, "legendY": 187, "title": null, "symbolType": "M-5,0H5", "symbolSize": 400, "symbolStrokeWidth": 3, "labelFontSize": 28, "labelOffset": 37, "rowPadding": 15,
                "encode": {"labels": {"update": {"fill": {"signal": "datum.value === 'D' ? '#c8161d' : '#000000'"}}}}}}
          }
        }
      ]
    }
  ],
  "config": {
    "view": {"stroke": null},
    "font": "Liberation Sans",
    "axis": {"grid": false, "domainColor": "#000", "domainWidth": 1.5, "tickColor": "#000", "tickWidth": 1.5, "tickSize": 6, "labelColor": "#000", "labelFontSize": 28, "labelPadding": 4, "titleColor": "#000"},
    "title": {"fontSize": 45, "fontWeight": "normal", "color": "#000", "anchor": "middle", "baseline": "alphabetic"},
    "legend": {"labelFont": "Liberation Sans"}
  }
}
